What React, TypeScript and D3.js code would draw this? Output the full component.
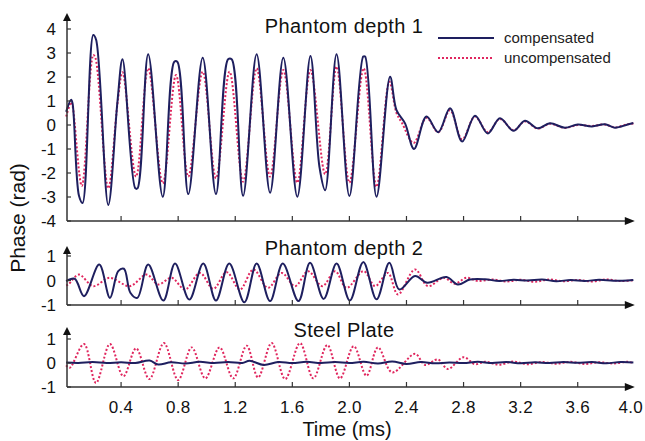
import React from 'react';
import * as d3 from 'd3';

// ---- data ----
const xTickValues = [0.4, 0.8, 1.2, 1.6, 2.0, 2.4, 2.8, 3.2, 3.6, 4.0];
const xTickLabels = ['0.4', '0.8', '1.2', '1.6', '2.0', '2.4', '2.8', '3.2', '3.6', '4.0'];
const yTicksTop = [4, 3, 2, 1, 0, -1, -2, -3, -4];
const yTicksSmall = [1, 0, -1];
const panelTitles = ['Phantom depth 1', 'Phantom depth 2', 'Steel Plate'];
const seriesNames = ['compensated', 'uncompensated'];

// [time ms, phase rad]
const comp1: [number, number][] = [
  [0.015, 0.55], [0.05, 1.05], [0.06, 0.9], [0.105, -2.95], [0.13, -3.25], [0.205, 3.75], [0.225, 3.55],
  [0.31, -3.33], [0.375, 1.0], [0.41, 2.74], [0.5, -2.64], [0.515, -2.64], [0.59, 2.95], [0.692, -2.99],
  [0.773, 2.64], [0.794, 2.64], [0.871, -2.88], [0.972, 2.8], [1.065, -2.88], [1.15, 2.74], [1.175, 2.74],
  [1.255, -2.95], [1.35, 2.95], [1.444, -2.82], [1.537, 2.8], [1.635, -2.99], [1.727, 2.87], [1.79, -1.74],
  [1.83, -2.72], [1.91, 2.95], [2.0, -2.96], [2.097, 2.85], [2.11, 2.85], [2.19, -2.99], [2.285, 2.01],
  [2.33, 0.62], [2.39, 0.07], [2.453, -1.0], [2.54, 0.35], [2.623, -0.3], [2.705, 0.7], [2.79, -0.69],
  [2.88, 0.39], [2.97, -0.35], [3.055, 0.28], [3.15, -0.24], [3.23, 0.18], [3.32, -0.14], [3.405, 0.07],
  [3.51, -0.11], [3.6, 0.02], [3.7, -0.06], [3.79, 0.03], [3.86, -0.11], [3.95, 0.02], [3.99, 0.08],
];
const unc1: [number, number][] = [
  [0.015, 0.35], [0.05, 0.95], [0.06, 0.8], [0.125, -2.54], [0.205, 2.92], [0.22, 2.8], [0.31, -2.64],
  [0.375, 0.9], [0.41, 2.2], [0.505, -2.15], [0.59, 2.36], [0.692, -2.43], [0.785, 2.08], [0.871, -2.15],
  [0.972, 2.22], [1.065, -2.22], [1.16, 2.22], [1.255, -2.36], [1.35, 2.36], [1.444, -2.15], [1.537, 2.29],
  [1.635, -2.4], [1.727, 2.29], [1.83, -2.05], [1.91, 2.43], [2.0, -2.4], [2.1, 2.36], [2.19, -2.57],
  [2.28, 1.8], [2.33, 0.5], [2.37, 0.07], [2.45, -0.75], [2.54, 0.3], [2.623, -0.3], [2.705, 0.62],
  [2.79, -0.6], [2.88, 0.35], [2.97, -0.3], [3.055, 0.25], [3.15, -0.22], [3.23, 0.15], [3.32, -0.15],
  [3.405, 0.05], [3.51, -0.12], [3.6, 0.0], [3.7, -0.04], [3.79, 0.02], [3.86, -0.1], [3.95, 0.03], [3.99, 0.06],
];
const comp2: [number, number][] = [
  [0.015, -0.03], [0.075, 0.07], [0.14, -0.64], [0.247, 0.65], [0.322, -0.71], [0.38, 0.38], [0.42, 0.48],
  [0.465, -0.5], [0.514, -0.71], [0.59, 0.65], [0.696, -0.82], [0.778, 0.69], [0.878, -0.78], [0.976, 0.69],
  [1.065, -0.82], [1.158, 0.69], [1.264, -0.89], [1.35, 0.69], [1.444, -0.84], [1.533, 0.69], [1.643, -0.84],
  [1.724, 0.72], [1.82, -0.75], [1.91, 0.69], [2.003, -0.82], [2.097, 0.75], [2.19, -0.77], [2.28, 0.72],
  [2.35, -0.37], [2.46, 0.18], [2.545, -0.09], [2.68, 0.14], [2.76, -0.16], [2.845, 0.04], [2.95, 0.05],
  [3.05, -0.02], [3.15, 0.03], [3.25, 0.0], [3.35, 0.04], [3.45, -0.03], [3.55, 0.02], [3.65, -0.02],
  [3.75, 0.03], [3.85, -0.01], [3.95, 0.0], [3.99, 0.02],
];
const unc2: [number, number][] = [
  [0.015, -0.2], [0.03, -0.16], [0.105, 0.24], [0.205, -0.23], [0.32, 0.11], [0.46, -0.23], [0.58, 0.24],
  [0.66, -0.16], [0.755, 0.11], [0.848, -0.37], [0.953, 0.31], [1.046, -0.34], [1.14, 0.34], [1.233, -0.37],
  [1.327, 0.45], [1.43, -0.3], [1.525, 0.31], [1.62, -0.23], [1.71, 0.38], [1.81, -0.23], [1.9, 0.38],
  [1.98, -0.3], [2.1, 0.38], [2.18, -0.23], [2.27, 0.31], [2.34, -0.57], [2.46, 0.45], [2.55, -0.23],
  [2.66, 0.11], [2.74, -0.13], [2.82, 0.11], [2.9, -0.02], [3.0, 0.04], [3.1, -0.04], [3.2, 0.03],
  [3.3, -0.05], [3.4, 0.04], [3.5, -0.03], [3.6, 0.02], [3.7, -0.04], [3.8, 0.04], [3.9, -0.02], [3.99, 0.01],
];
const comp3: [number, number][] = [
  [0.015, 0.02], [0.1, 0.0], [0.2, 0.04], [0.3, 0.0], [0.4, 0.03], [0.5, 0.0], [0.6, 0.1], [0.66, -0.06],
  [0.75, 0.03], [0.85, -0.02], [0.95, 0.05], [1.05, 0.0], [1.15, 0.04], [1.25, 0.0], [1.3, 0.09], [1.4, -0.08],
  [1.5, 0.04], [1.6, 0.0], [1.7, 0.05], [1.8, 0.0], [1.9, 0.04], [2.0, 0.0], [2.1, 0.05], [2.2, -0.02],
  [2.3, 0.06], [2.4, -0.04], [2.5, 0.04], [2.6, -0.01], [2.7, 0.02], [2.8, 0.0], [2.9, 0.05], [3.0, 0.0],
  [3.1, 0.04], [3.2, -0.01], [3.3, 0.03], [3.4, 0.0], [3.5, 0.04], [3.6, 0.01], [3.7, 0.04], [3.8, -0.01],
  [3.9, 0.04], [3.99, 0.02],
];
const unc3: [number, number][] = [
  [0.015, -0.1], [0.04, -0.2], [0.14, 0.79], [0.224, -0.83], [0.322, 0.79], [0.416, -0.55], [0.505, 0.61],
  [0.598, -0.67], [0.7, 0.83], [0.8, -0.71], [0.895, 0.65], [0.99, -0.64], [1.09, 0.65], [1.186, -0.64],
  [1.28, 0.72], [1.36, -0.6], [1.455, 0.83], [1.55, -0.67], [1.654, 0.83], [1.747, -0.64], [1.845, 0.75],
  [1.934, -0.64], [2.03, 0.7], [2.12, -0.53], [2.2, 0.65], [2.3, -0.39], [2.46, 0.38], [2.53, -0.08],
  [2.62, 0.15], [2.69, -0.25], [2.8, 0.24], [2.88, -0.05], [2.95, 0.05], [3.05, -0.07], [3.15, 0.06],
  [3.25, -0.05], [3.35, 0.04], [3.45, -0.03], [3.55, 0.05], [3.65, -0.04], [3.75, 0.03], [3.85, -0.02],
  [3.95, 0.05], [3.99, 0.0],
];

// ---- layout ----
const W = 645;
const H = 441;
const NAVY = '#1e1f5f';
const RED = '#e0265e';
const AXIS = '#333';
const FONT = '"Liberation Sans", Arial, sans-serif';
const axisX = 67;

const x = d3.scaleLinear().domain([0, 4]).range([64, 634.8]);
const smooth = d3.curveCatmullRom.alpha(0.5);

const panels = [
  { y: d3.scaleLinear().domain([-4, 4]).range([221, 29]), ticks: yTicksTop, top: 13, titleY: 33,
    comp: comp1, unc: unc1 },
  { y: d3.scaleLinear().domain([-1, 1]).range([305, 256]), ticks: yTicksSmall, top: 246, titleY: 255,
    comp: comp2, unc: unc2 },
  { y: d3.scaleLinear().domain([-1, 1]).range([387, 339]), ticks: yTicksSmall, top: 327, titleY: 337,
    comp: comp3, unc: unc3 },
];

export default function App() {
  const xEnd = x(4);
  return (
    <svg width={W} height={H} style={{ position: 'absolute', left: 0, top: 0, background: '#fff' }}
      fontFamily={FONT}>
      {panels.map((p, i) => {
        const base = p.y.range()[0];
        const line = d3.line<[number, number]>().x(d => x(d[0])).y(d => p.y(d[1])).curve(smooth);
        return (
          <g key={i}>
            <path d={line(p.unc) || ''} fill="none" stroke={RED} strokeWidth={2} strokeDasharray="2,2" />
            <path d={line(p.comp) || ''} fill="none" stroke={NAVY} strokeWidth={2} strokeLinejoin="round" />
            {/* y axis */}
            <line x1={axisX} x2={axisX} y1={base} y2={p.top + 6} stroke={AXIS} strokeWidth={1.5} />
            <path d={`M${axisX},${p.top} L${axisX - 4},${p.top + 8} L${axisX + 4},${p.top + 8} Z`} fill="#111" />
            {p.ticks.map(t => (
              <g key={t}>
                <line x1={axisX} x2={axisX + 4} y1={p.y(t)} y2={p.y(t)} stroke={AXIS} strokeWidth={1.2} />
                <text x={56} y={p.y(t) + 6} textAnchor="end" fontSize={17} fill="#111">{t}</text>
              </g>
            ))}
            {/* x axis */}
            <line x1={axisX} x2={xEnd - 6} y1={base} y2={base} stroke={AXIS} strokeWidth={1.5} />
            <path d={`M${xEnd},${base} L${xEnd - 10},${base - 4} L${xEnd - 10},${base + 4} Z`} fill="#111" />
            {xTickValues.slice(0, -1).map(t => (
              <line key={t} x1={x(t)} x2={x(t)} y1={base} y2={base - 5} stroke={AXIS} strokeWidth={1.2} />
            ))}
            <text x={344} y={p.titleY} textAnchor="middle" fontSize={20} letterSpacing={0.4} fill="#111">
              {panelTitles[i]}
            </text>
          </g>
        );
      })}
      {xTickValues.map((t, i) => (
        <text key={t} x={i === xTickValues.length - 1 ? x(t) - 4 : x(t)} y={413} textAnchor="middle"
          fontSize={17} letterSpacing={0.3} fill="#111">
          {xTickLabels[i]}
        </text>
      ))}
      <text x={347} y={436} textAnchor="middle" fontSize={20} fill="#111">Time (ms)</text>
      <text transform="translate(25,218) rotate(-90)" textAnchor="middle" fontSize={21} fill="#111">
        Phase (rad)
      </text>
      {/* legend */}
      <line x1={438} x2={494} y1={38} y2={38} stroke={NAVY} strokeWidth={2} />
      <line x1={438} x2={494} y1={58} y2={58} stroke={RED} strokeWidth={2} strokeDasharray="2,2" />
      <text x={504} y={43} fontSize={15} fill="#222">{seriesNames[0]}</text>
      <text x={504} y={63} fontSize={15} fill="#222">{seriesNames[1]}</text>
    </svg>
  );
}
